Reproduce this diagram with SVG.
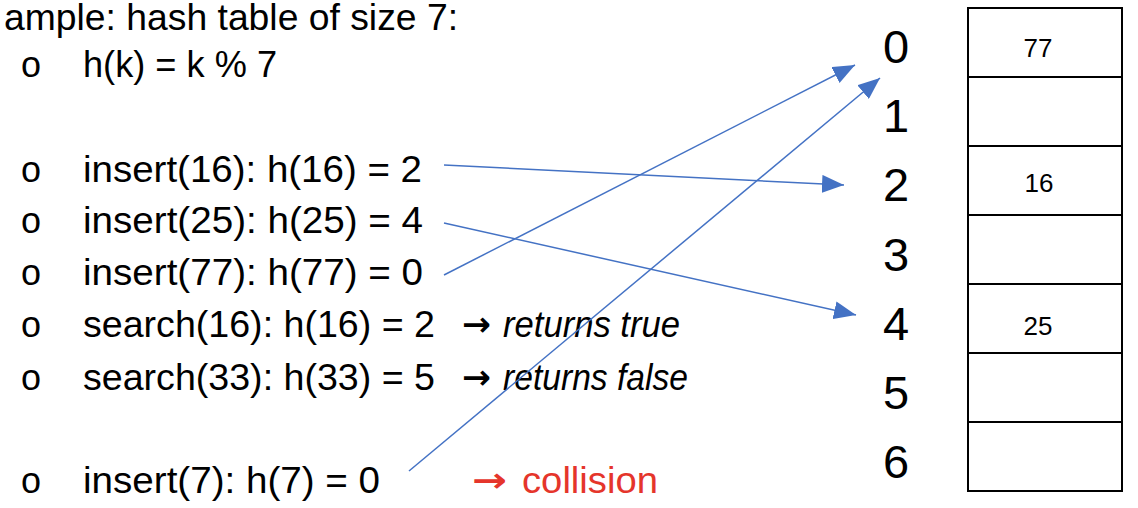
<svg xmlns="http://www.w3.org/2000/svg" width="1138" height="508" viewBox="0 0 1138 508">
<style>
  .t { font-family: "Liberation Sans", Arial, sans-serif; font-size: 36px; fill: #000; }
  .it { font-style: italic; }
  .red { fill: #E5352B; }
  .arw { font-family: "DejaVu Sans", sans-serif; font-size: 34px; font-weight: bold; }
  .idx { font-family: "Liberation Sans", Arial, sans-serif; font-size: 47px; fill: #000; text-anchor: middle; }
  .cell { fill: #fff; stroke: #000; stroke-width: 2; }
  .val { font-family: "Liberation Sans", Arial, sans-serif; font-size: 26px; fill: #000; text-anchor: middle; }
  .conn { stroke: #4472C4; stroke-width: 1.5; fill: none; marker-end: url(#ah); }
</style>
<defs>
  <marker id="ah" viewBox="0 0 22 18" refX="22" refY="9" markerWidth="22" markerHeight="18" markerUnits="userSpaceOnUse" orient="auto">
    <path d="M0,0 L22,9 L0,18 z" fill="#4472C4"/>
  </marker>
</defs>
<rect width="1138" height="508" fill="#fff"/>

<g id="text-list">
  <text class="t" x="4" y="30" font-size="31" textLength="454" lengthAdjust="spacingAndGlyphs">ample: hash table of size 7:</text>
  <g class="t">
    <text x="21" y="77">o</text>
    <text x="21" y="182">o</text>
    <text x="21" y="233">o</text>
    <text x="21" y="285">o</text>
    <text x="21" y="337">o</text>
    <text x="21" y="390">o</text>
    <text x="21" y="493">o</text>
  </g>
  <text class="t" x="83" y="77" textLength="194" lengthAdjust="spacingAndGlyphs">h(k) = k % 7</text>
  <text class="t" x="83" y="182" textLength="339" lengthAdjust="spacingAndGlyphs">insert(16): h(16) = 2</text>
  <text class="t" x="83" y="233" textLength="340" lengthAdjust="spacingAndGlyphs">insert(25): h(25) = 4</text>
  <text class="t" x="83" y="285" textLength="340" lengthAdjust="spacingAndGlyphs">insert(77): h(77) = 0</text>
  <text class="t" x="83" y="337" textLength="352" lengthAdjust="spacingAndGlyphs">search(16): h(16) = 2</text>
  <text class="t" x="83" y="390" textLength="352" lengthAdjust="spacingAndGlyphs">search(33): h(33) = 5</text>
  <text class="t" x="83" y="493" textLength="297" lengthAdjust="spacingAndGlyphs">insert(7): h(7) = 0</text>
  <text class="t arw" x="462" y="336" textLength="29" lengthAdjust="spacingAndGlyphs">→</text>
  <text class="t it" x="503" y="337" textLength="177" lengthAdjust="spacingAndGlyphs">returns true</text>
  <text class="t arw" x="462" y="389" textLength="29" lengthAdjust="spacingAndGlyphs">→</text>
  <text class="t it" x="503" y="390" textLength="185" lengthAdjust="spacingAndGlyphs">returns false</text>
  <text class="t arw red" x="472" y="492" textLength="35" lengthAdjust="spacingAndGlyphs">→</text>
  <text class="t red" x="522" y="493" textLength="136" lengthAdjust="spacingAndGlyphs">collision</text>
</g>

<g id="indices">
  <text class="idx" x="896" y="63">0</text>
  <text class="idx" x="896" y="132">1</text>
  <text class="idx" x="896" y="201">2</text>
  <text class="idx" x="896" y="271">3</text>
  <text class="idx" x="896" y="340">4</text>
  <text class="idx" x="896" y="409">5</text>
  <text class="idx" x="896" y="478">6</text>
</g>

<g id="table">
  <g id="slot0"><rect class="cell" x="968" y="8" width="154" height="69"/><text class="val" x="1038" y="57">77</text></g>
  <g id="slot1"><rect class="cell" x="968" y="77" width="154" height="69"/></g>
  <g id="slot2"><rect class="cell" x="968" y="146" width="154" height="69"/><text class="val" x="1039" y="192">16</text></g>
  <g id="slot3"><rect class="cell" x="968" y="215" width="154" height="69"/></g>
  <g id="slot4"><rect class="cell" x="968" y="284" width="154" height="69"/><text class="val" x="1038" y="335">25</text></g>
  <g id="slot5"><rect class="cell" x="968" y="353" width="154" height="69"/></g>
  <g id="slot6"><rect class="cell" x="968" y="422" width="154" height="69"/></g>
</g>

<g id="connectors">
  <line class="conn" x1="444" y1="165" x2="844" y2="185"/>
  <line class="conn" x1="444" y1="223" x2="856" y2="315"/>
  <line class="conn" x1="444" y1="275" x2="855" y2="65"/>
  <line class="conn" x1="409" y1="471" x2="880" y2="78"/>
</g>
</svg>
